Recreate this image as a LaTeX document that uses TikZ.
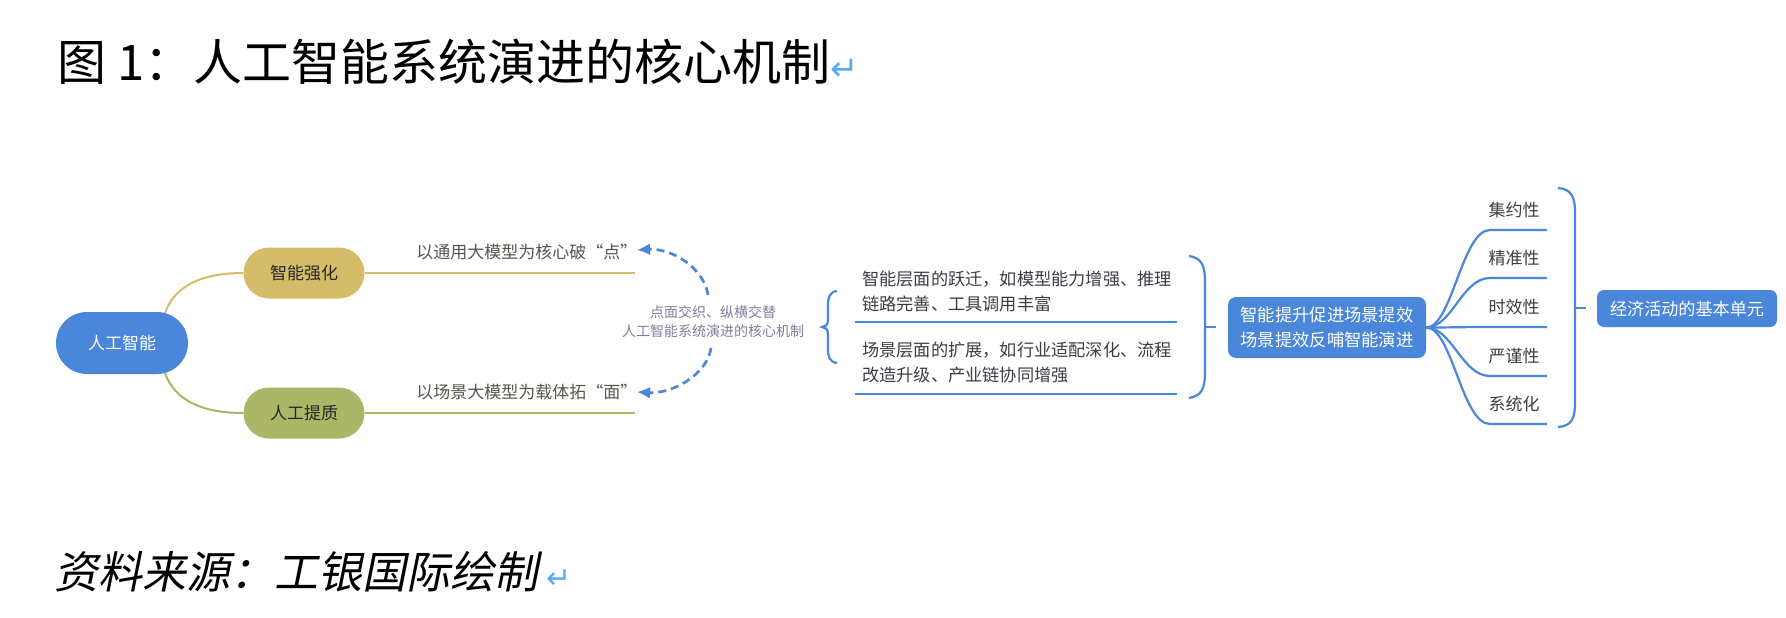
\documentclass[tikz,border=0pt]{standalone}
\usepackage{fontspec}
\setmainfont{Noto Sans CJK SC}
\newfontfamily\slantfont[FakeSlant=0.2]{Noto Sans CJK SC}
\newfontfamily\markfont{DejaVu Sans}
\usetikzlibrary{positioning,calc,arrows.meta,shapes.misc}
\definecolor{mapblue}{HTML}{4A86D9}
\definecolor{gold}{HTML}{D5BC69}
\definecolor{olive}{HTML}{ABB667}
\definecolor{lbltext}{HTML}{56564C}
\definecolor{midgray}{HTML}{7C7E9E}
\definecolor{darktext}{HTML}{3A3D45}
\definecolor{markblue}{HTML}{5AAAF2}
\newcommand{\retmark}[1]{{\markfont\fontsize{#1}{#1}\selectfont\color{markblue}↵}}

\begin{document}
\begin{tikzpicture}[x=1pt, y=-1pt,
  font=\fontsize{17}{20}\selectfont,
  pill/.style={rounded rectangle, inner sep=0pt, text=black!85},
  bluebox/.style={rectangle, rounded corners=8pt, fill=mapblue, text=white, inner sep=0pt, align=center},
  goldline/.style={draw=gold, line width=2pt},
  oliveline/.style={draw=olive, line width=2pt},
  blueline/.style={draw=mapblue, line width=2.2pt},
  dasharrow/.style={draw=mapblue, line width=2.7pt, dash pattern=on 8pt off 5pt, -{Latex[length=13pt,width=12pt]}},
  lbl/.style={text=lbltext, inner sep=0pt},
  midtxt/.style={text=darktext, inner sep=0pt, align=left, font=\fontsize{17.2}{25}\selectfont}]
    \useasboundingbox (0,0) rectangle (1786,618);
    \node[anchor=west, inner sep=0pt, font=\fontsize{49}{49}\selectfont] (title) at (57,62) {图 1：人工智能系统演进的核心机制\retmark{34}};
    \node[anchor=west, inner sep=0pt, font=\slantfont\fontsize{44}{44}\selectfont] (source) at (54,572) {资料来源：工银国际绘制\kern8pt\retmark{30}};
    %
    \node[pill, fill=mapblue, text=white, minimum width=132pt, minimum height=62pt] (ai) at (122,343) {人工智能};
    \node[pill, fill=gold, minimum width=121pt, minimum height=51pt] (boost) at (304,273) {智能强化};
    \node[pill, fill=olive, minimum width=121pt, minimum height=51pt] (craft) at (304,413) {人工提质};
    \coordinate (boost_end) at (635,273);
    \coordinate (craft_end) at (635,413);
    %
    \draw[goldline] (ai.35) .. controls ($(ai.35)+(10,-28)$) and ($(boost.west)+(-40,0)$) .. (boost.west);
    \draw[oliveline] (ai.-35) .. controls ($(ai.-35)+(10,28)$) and ($(craft.west)+(-40,0)$) .. (craft.west);
    \draw[goldline] (boost.east) -- node[lbl, above=12pt, pos=0.6] (boost_lbl) {以通用大模型为核心破“点”} (boost_end);
    \draw[oliveline] (craft.east) -- node[lbl, above=12pt, pos=0.6] (craft_lbl) {以场景大模型为载体拓“面”} (craft_end);
    %
    \node[text=midgray, align=center, inner sep=0pt, font=\fontsize{14}{19}\selectfont] (weave) at (713,322) {点面交织、纵横交替\\人工智能系统演进的核心机制};
    \coordinate (weave_top) at (708,295);
    \coordinate (weave_bot) at (711,348);
    \coordinate (point_tip) at (637,250);
    \coordinate (plane_tip) at (637,392);
    \draw[dasharrow] (weave_top) .. controls (704,268) and (672,248) .. (point_tip);
    \draw[dasharrow] (weave_bot) .. controls (707,375) and (672,394) .. (plane_tip);
    %
    \draw[blueline] (837,291) .. controls (829,292) and (828,298) .. (828,306) -- (828,320)
      .. controls (828,325) and (825,327) .. (822,327) .. controls (825,327) and (828,329) .. (828,334)
      -- (828,348) .. controls (828,356) and (829,362) .. (837,363);
    \node[midtxt, anchor=west] (leap) at (862,291) {智能层面的跃迁，如模型能力增强、推理\\链路完善、工具调用丰富};
    \node[midtxt, anchor=west] (expand) at (862,362) {场景层面的扩展，如行业适配深化、流程\\改造升级、产业链协同增强};
    \draw[blueline] (855,322) -- (1177,322);
    \draw[blueline] (855,394) -- (1177,394);
    \draw[blueline] (1189,256) .. controls (1202,258) and (1205,266) .. (1205,282) -- (1205,372)
      .. controls (1205,388) and (1202,396) .. (1189,398);
    \draw[blueline] (1205,327) -- (1216,327);
    %
    \node[bluebox, minimum width=198pt, minimum height=61pt, font=\fontsize{17.3}{25}\selectfont] (loop) at (1327,327.5) {智能提升促进场景提效\\场景提效反哺智能演进};
    \foreach \yy/\trait [count=\i] in {230/集约性,278/精准性,327/时效性,376/严谨性,424/系统化}{
      \coordinate (trait\i) at (1547,\yy);
      \draw[blueline] (loop.east) .. controls (1452,327.5) and (1462,\yy) .. (1490,\yy) -- (trait\i);
      \node[text=darktext, inner sep=0pt] (trait_lbl\i) at (1514,\yy-20) {\trait};
    }
    \draw[blueline] (1558,188) .. controls (1572,189) and (1575,198) .. (1575,212) -- (1575,403)
      .. controls (1575,418) and (1572,426) .. (1558,427);
    \draw[blueline] (1575,308) -- (1586,308);
    \node[bluebox, rounded corners=7pt, minimum width=180pt, minimum height=37pt, font=\fontsize{17.1}{20}\selectfont] (unit) at (1687,308.5) {经济活动的基本单元};

  \end{tikzpicture}
\end{document}
